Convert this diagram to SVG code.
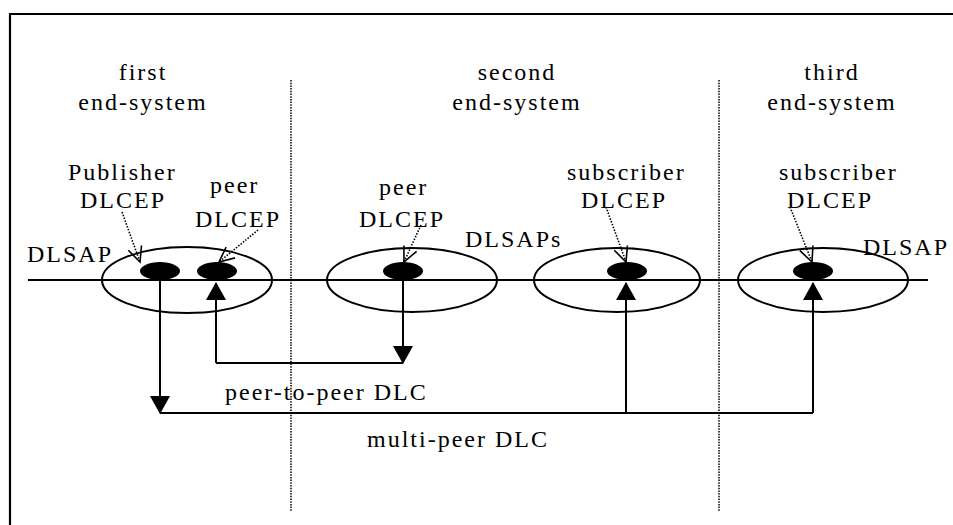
<svg xmlns="http://www.w3.org/2000/svg" width="953" height="525" viewBox="0 0 953 525">
<defs>
<style>
text{font-family:'Liberation Serif','DejaVu Serif',serif;font-size:24px;letter-spacing:2px;fill:#000}
.mid{text-anchor:middle}
.ln{fill:none;stroke:#000;stroke-width:2}
.sep{fill:none;stroke:#000;stroke-width:1.5;stroke-dasharray:1.5 1.2}
.sap{fill:none;stroke:#000;stroke-width:2}
.cep{fill:#000;stroke:none}
.arr{fill:none;stroke:#000;stroke-width:2;marker-end:url(#solid)}
.ptr{fill:none;stroke:#000;stroke-width:1.6;stroke-dasharray:1.5 1.5;marker-end:url(#open)}
</style>
<marker id="solid" markerUnits="userSpaceOnUse" markerWidth="18" markerHeight="20" viewBox="0 0 18 20" refX="17" refY="10" orient="auto">
<path d="M0,0 L18,10 L0,20 Z" fill="#000"/>
</marker>
<marker id="open" markerUnits="userSpaceOnUse" markerWidth="18" markerHeight="16" viewBox="0 0 18 16" refX="16" refY="8" orient="auto">
<path d="M1,1 L16,8 L1,15" fill="none" stroke="#000" stroke-width="1.6"/>
</marker>
</defs>
<rect width="953" height="525" fill="#fff"/>
<path d="M10,525 V14 H953" fill="none" stroke="#000" stroke-width="2.2"/>
<line class="sep" x1="291" y1="80" x2="291" y2="512"/>
<line class="sep" x1="719" y1="80" x2="719" y2="512"/>
<g font-family="Liberation Serif, serif">
<g id="first-end-system">
<text class="mid" x="143" y="80">first</text>
<text class="mid" x="143" y="110">end-system</text>
</g>
<g id="second-end-system">
<text class="mid" x="517" y="80">second</text>
<text class="mid" x="517" y="110">end-system</text>
</g>
<g id="third-end-system">
<text class="mid" x="832" y="80">third</text>
<text class="mid" x="832" y="110">end-system</text>
</g>
<line class="ln" x1="28" y1="280" x2="928" y2="280"/>
<g id="dlsap1">
<ellipse class="sap" cx="187" cy="280" rx="85" ry="33"/>
<text x="27" y="262">DLSAP</text>
</g>
<g id="dlsap2">
<ellipse class="sap" cx="412" cy="280" rx="85" ry="32"/>
<text x="465" y="247">DLSAPs</text>
</g>
<g id="dlsap3">
<ellipse class="sap" cx="617" cy="280" rx="83" ry="32"/>
</g>
<g id="dlsap4">
<ellipse class="sap" cx="823" cy="280" rx="85" ry="32"/>
<text x="863" y="255">DLSAP</text>
</g>
<g id="publisher-dlcep">
<ellipse class="cep" cx="160" cy="271" rx="20" ry="9"/>
<text x="68" y="180">Publisher</text>
<text x="80" y="208">DLCEP</text>
</g>
<g id="peer-dlcep-1">
<ellipse class="cep" cx="217" cy="271" rx="20" ry="9"/>
<text x="210" y="193">peer</text>
<text x="195" y="227">DLCEP</text>
</g>
<g id="peer-dlcep-2">
<ellipse class="cep" cx="403" cy="271" rx="20" ry="9"/>
<text x="379" y="195">peer</text>
<text x="359" y="227">DLCEP</text>
</g>
<g id="subscriber-dlcep-1">
<ellipse class="cep" cx="627" cy="271" rx="20" ry="9"/>
<text x="567" y="180">subscriber</text>
<text x="581" y="208">DLCEP</text>
</g>
<g id="subscriber-dlcep-2">
<ellipse class="cep" cx="813" cy="271" rx="20" ry="9"/>
<text x="779" y="180">subscriber</text>
<text x="787" y="208">DLCEP</text>
</g>
<g id="connectors">
<path class="ptr" d="M122,212 L140,262"/>
<path class="ptr" d="M258,230 L219,262"/>
<path class="ptr" d="M421,225 L404,262"/>
<path class="ptr" d="M606,207 L626,262"/>
<path class="ptr" d="M790,207 L812,262"/>
<path class="arr" d="M160,280 V413"/>
<path class="ln" d="M160,413 H813"/>
<path class="arr" d="M626,413 V283"/>
<path class="arr" d="M813,413 V283"/>
<path class="arr" d="M216,363 V283"/>
<path class="ln" d="M216,363 H403"/>
<path class="arr" d="M403,280 V363"/>
</g>
<g id="labels">
<text x="225" y="400">peer-to-peer DLC</text>
<text x="367" y="447">multi-peer DLC</text>
</g>
</g>
</svg>
